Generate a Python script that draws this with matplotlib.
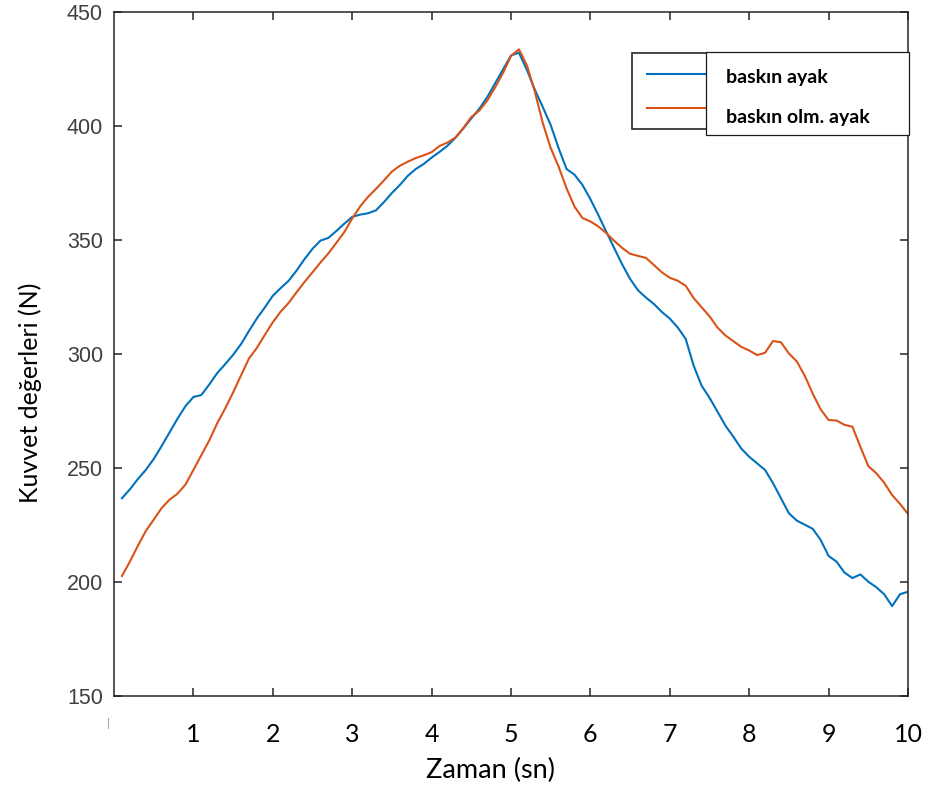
import numpy as np
import matplotlib
matplotlib.use("Agg")
import matplotlib.pyplot as plt
from matplotlib.patches import Rectangle
from matplotlib.lines import Line2D

# ---- data ----
time_s = np.round(np.arange(1, 101) * 0.1, 1)

baskin_ayak = [
    236.6, 240.5, 245.0, 249.0, 253.8, 259.5, 265.5, 271.5, 277.0, 281.0,
    281.9, 286.5, 291.5, 295.4, 299.5, 304.2, 310.0, 315.5, 320.3, 325.4,
    328.8, 332.0, 336.5, 341.5, 346.0, 349.6, 350.8, 353.8, 357.0, 360.0,
    361.0, 361.6, 362.9, 366.5, 370.5, 374.0, 378.0, 381.0, 383.2, 386.0,
    388.5, 391.2, 394.7, 398.8, 403.2, 407.4, 412.5, 418.6, 424.7, 430.8,
    432.0, 424.5, 415.8, 408.2, 400.3, 390.1, 381.0, 378.5, 374.0, 367.8,
    360.8, 353.5, 346.3, 339.2, 332.8, 327.8, 324.6, 321.8, 318.3, 315.4,
    311.5, 306.5, 294.8, 286.0, 280.7, 274.6, 268.5, 263.6, 258.4, 254.8,
    251.9, 249.0, 243.2, 236.6, 230.0, 226.8, 225.0, 223.2, 218.3, 211.3,
    208.8, 204.0, 201.6, 203.2, 200.0, 197.6, 194.5, 189.3, 194.5, 195.6,
]

baskin_olm_ayak = [
    202.5, 208.8, 215.7, 222.2, 227.2, 232.3, 236.0, 238.6, 242.6, 249.0,
    255.5, 262.0, 269.5, 276.0, 283.0, 290.5, 297.9, 302.6, 308.3, 313.8,
    318.5, 322.3, 327.0, 331.5, 335.7, 340.0, 344.0, 348.6, 353.3, 359.3,
    364.6, 368.8, 372.3, 376.0, 379.9, 382.4, 384.2, 385.8, 387.0, 388.4,
    391.1, 392.6, 394.8, 399.0, 403.8, 406.6, 411.0, 416.8, 423.2, 430.6,
    433.5, 426.5, 415.0, 401.2, 390.2, 382.0, 372.5, 364.5, 359.5, 358.0,
    355.8, 352.9, 349.5, 346.4, 343.8, 342.9, 342.0, 338.9, 335.7, 333.3,
    332.0, 329.8, 324.4, 320.4, 316.4, 311.5, 308.0, 305.5, 303.0, 301.4,
    299.4, 300.4, 305.6, 305.0, 300.1, 296.6, 290.3, 282.5, 275.6, 270.9,
    270.7, 268.8, 268.0, 259.2, 250.7, 247.6, 243.4, 238.0, 234.1, 229.7,
]

series_labels = ["baskın ayak", "baskın olm. ayak"]
series_colors = ["#0072BD", "#D95319"]

x_ticks = [1, 2, 3, 4, 5, 6, 7, 8, 9, 10]
y_ticks = [150, 200, 250, 300, 350, 400, 450]

# ---- figure ----
fig = plt.figure(figsize=(9.29, 7.90), dpi=100)
ax = fig.add_axes([114 / 929, 1 - 695.7 / 790, (908 - 114) / 929, (695.7 - 11.7) / 790])

for vals, col in zip([baskin_ayak, baskin_olm_ayak], series_colors):
    ax.plot(time_s, vals, color=col, lw=1.5, solid_joinstyle="round")

ax.set_xlim(0, 10)
ax.set_ylim(150, 450)
ax.set_xticks(x_ticks)
ax.set_yticks(y_ticks)

for s in ax.spines.values():
    s.set_color("#262626")
    s.set_linewidth(1.1)

ax.tick_params(direction="in", length=6, width=1.1, color="#262626",
               top=True, right=True)
ax.tick_params(axis="y", labelsize=15.5, labelcolor="#404040", pad=8)
ax.tick_params(axis="x", labelsize=18, labelcolor="#000000", pad=20)
for lab in ax.get_yticklabels():
    lab.set_family("Liberation Sans")
for lab in ax.get_xticklabels():
    lab.set_family("Lato")


def fx(px):
    return (px - 114) / (908 - 114)


def fy(py):
    return (695.7 - py) / (695.7 - 11.7)


ax.set_xlabel("Zaman (sn)", fontsize=19.5, family="Lato")
ax.xaxis.set_label_coords(fx(491), fy(770))
ax.xaxis.label.set_va("center")
ax.set_ylabel("Kuvvet değerleri (N)", fontsize=18, family="Lato")
ax.yaxis.set_label_coords(fx(30), fy(393))
ax.yaxis.label.set_va("center")

# ---- legend (two overlapping boxes as in the reference) ----
ax.add_patch(Rectangle((fx(632), fy(129)), fx(909) - fx(632), fy(53) - fy(129),
                       transform=ax.transAxes, facecolor="white",
                       edgecolor="#262626", lw=1.2, zorder=5, clip_on=False))
for py, col in zip([74.3, 108.3], series_colors):
    ax.add_line(Line2D([fx(647), fx(706)], [fy(py), fy(py)], transform=ax.transAxes,
                       color=col, lw=1.5, zorder=6, clip_on=False))
ax.add_patch(Rectangle((fx(706), fy(135)), fx(908.7) - fx(706), fy(51.7) - fy(135),
                       transform=ax.transAxes, facecolor="white",
                       edgecolor="#1a1a1a", lw=0.9, zorder=7, clip_on=False))
for py, lab in zip([78, 118], series_labels):
    ax.text(fx(726), fy(py), lab, transform=ax.transAxes, fontsize=14,
            fontweight="bold", family="Lato", va="center", ha="left", zorder=8)

# small clipped tick-label remnant below the origin
fig.add_artist(Line2D([108 / 929, 108 / 929], [1 - 728 / 790, 1 - 718 / 790],
                      color="#aaaaaa", lw=0.8))

fig.savefig("out.png", dpi=100)
